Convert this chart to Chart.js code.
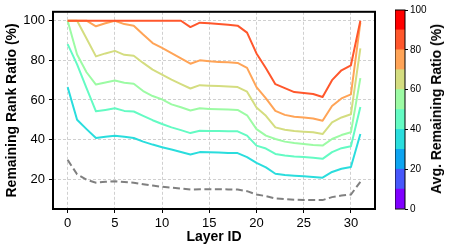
<!DOCTYPE html>
<html>
<head>
<meta charset="utf-8">
<script src="https://cdn.jsdelivr.net/npm/chart.js@4.4.0/dist/chart.umd.min.js"></script>
<style>
  html, body { margin: 0; padding: 0; background: #fff; }
  #wrap { position: relative; width: 449px; height: 252px; overflow: hidden; }
  #mainChart { position: absolute; left: 0; top: 0; }
  #cbarChart { position: absolute; left: 395px; top: 0; }
  #cbarTitle {
    position: absolute; left: 436px; top: 109px;
    transform: translate(-50%, -50%) rotate(-90deg);
    white-space: nowrap; color: #000;
    font: bold 14px "Liberation Sans", Arial, sans-serif;
  }
</style>
</head>
<body>
<div id="wrap">
  <canvas id="mainChart" width="449" height="252"></canvas>
  <canvas id="cbarChart" width="34" height="252"></canvas>
  <div id="cbarTitle">Avg. Remaining Ratio (%)</div>
</div>
<script>
// layer ids and axis ticks
var layers = [0,1,2,3,4,5,6,7,8,9,10,11,12,13,14,15,16,17,18,19,20,21,22,23,24,25,26,27,28,29,30,31];
var xTicks = [0, 5, 10, 15, 20, 25, 30];
var yTicks = [20, 40, 60, 80, 100];
var cbarTicks = [0, 20, 40, 60, 80, 100];

// remaining rank ratio per layer, one array per avg ratio level
var ratio85 = [100,100,100,100,100,100,100,100,100,100,100,100,100,96.8,99,98.7,98.3,98,97.5,94,83.5,76,68,66,64,63.5,63,61.5,70,75,77.5,100];
var ratio75 = [100,100,100,97.2,98.7,100,98.3,97.5,93,88.7,86.3,83.7,81,78.3,80,79.5,79.2,79,78.7,76.2,66.5,60.8,54.5,52.5,51.5,51.2,50.7,49.5,57,60.8,62.8,99];
var ratio65 = [100,100,91,82,83.5,84.8,82.8,82.3,78.7,75.3,72.8,70.3,68,65.8,67.5,67.2,67,66.8,66.5,64.2,56.2,52,46.2,45,44.3,44,43.7,42.8,48.7,51.2,52.8,86];
var ratio55 = [100,83,74,67.8,68.8,69.8,68.7,68.2,64.5,62,60.3,57.8,56.3,54.7,55.8,55.5,55.3,55.2,55,52.3,45.3,42,40.3,39,38.3,37.8,37.3,37,40.3,42.3,43.7,71];
var ratio45 = [88.2,78,66,54.3,55,55.8,54.5,54.2,52,49.8,47.9,46.2,44.8,43.3,44.5,44.4,44.3,44.2,44.2,42,37,35.5,32.8,32,31.5,31.2,30.8,30.3,33.7,35.7,36.7,56.5];
var ratio35 = [66.5,50,45.3,40.8,41.4,42,41.4,40.8,39,37.5,36.2,35,33.8,32.5,33.7,33.6,33.5,33.3,33.2,31.2,28.3,26,22.8,22.2,21.8,21.5,21.2,20.8,23.7,25.3,26.2,42.8];
var ratioMin = [29.8,22.5,19.8,18.3,18.7,19,18.6,18.3,17.5,16.8,16.2,15.8,15.3,14.8,15,15,15,14.9,14.8,14,12.3,11.5,10.3,10,9.7,9.5,9.5,9.5,11,11.8,12.3,18.7];

// colour bar: ten bins of 10 %
var cbarBins = [10, 10, 10, 10, 10, 10, 10, 10, 10, 10];
var cbarColors = ['#8000ff','#4757fb','#0ea4f0','#2adddd','#64fbc3','#9cfba4','#d4dd80','#ffa457','#ff572c','#ff0000'];

var seriesList = [ratio85, ratio75, ratio65, ratio55, ratio45, ratio35];
var lineColors = ['#ff572c', '#ffa457', '#d4dd80', '#9cfba4', '#64fbc3', '#2adddd'];

Chart.defaults.font.family = '"Liberation Sans", Arial, sans-serif';
Chart.defaults.color = '#000';

function toPoints(vals) {
  return layers.map(function(l, i) { return { x: l, y: vals[i] }; });
}

var datasets = [];
seriesList.forEach(function(s, i) {
  datasets.push({
    data: toPoints(s),
    borderColor: lineColors[i],
    borderWidth: 2,
    pointRadius: 0,
    tension: 0,
    borderJoinStyle: 'round'
  });
});
datasets.push({
  data: toPoints(ratioMin),
  borderColor: '#808080',
  borderWidth: 2,
  borderDash: [7, 3.5],
  pointRadius: 0,
  tension: 0
});

var framePlugin = {
  id: 'frame',
  afterDraw: function(chart, args, opts) {
    var a = chart.chartArea, ctx = chart.ctx;
    ctx.save();
    ctx.strokeStyle = '#000';
    ctx.lineWidth = opts.width;
    ctx.strokeRect(a.left, a.top, a.right - a.left, a.bottom - a.top);
    ctx.restore();
  }
};

new Chart(document.getElementById('mainChart'), {
  type: 'line',
  data: { datasets: datasets },
  plugins: [framePlugin],
  options: {
    responsive: false,
    animation: false,
    layout: { padding: { top: 10, right: 74, left: 0, bottom: 0 } },
    plugins: {
      legend: { display: false },
      tooltip: { enabled: false },
      frame: { width: 2 }
    },
    scales: {
      x: {
        type: 'linear',
        min: -1.55,
        max: 32.55,
        afterBuildTicks: function(s) { s.ticks = xTicks.map(function(v) { return { value: v }; }); },
        afterFit: function(s) { s.height = 43; },
        ticks: { color: '#000', font: { size: 13 }, padding: 3, maxRotation: 0 },
        grid: { color: '#d0d0d0', lineWidth: 1, tickLength: 4, tickColor: '#000', tickWidth: 1 },
        border: { display: false, dash: [3, 2] },
        title: { display: true, text: 'Layer ID', color: '#000', font: { size: 14, weight: 'bold' }, padding: { top: 4, bottom: 6 } }
      },
      y: {
        min: 5,
        max: 104.5,
        afterBuildTicks: function(s) { s.ticks = yTicks.map(function(v) { return { value: v }; }); },
        afterFit: function(s) { s.width = 53; },
        ticks: { color: '#000', font: { size: 13 }, padding: 4 },
        grid: { color: '#d0d0d0', lineWidth: 1, tickLength: 4, tickColor: '#000', tickWidth: 1 },
        border: { display: false, dash: [3, 2] },
        title: { display: true, text: 'Remaining Rank Ratio (%)', color: '#000', font: { size: 14, weight: 'bold' }, padding: { top: 4, bottom: 0 } }
      }
    }
  }
});

// colour bar as a stacked bar
var cbarSets = cbarBins.map(function(v, i) {
  return { data: [v], backgroundColor: cbarColors[i], borderWidth: 0, barPercentage: 1, categoryPercentage: 1 };
});

new Chart(document.getElementById('cbarChart'), {
  type: 'bar',
  data: { labels: [''], datasets: cbarSets },
  plugins: [framePlugin],
  options: {
    responsive: false,
    animation: false,
    layout: { padding: { top: 10, right: 0, left: 0, bottom: 43 } },
    plugins: {
      legend: { display: false },
      tooltip: { enabled: false },
      frame: { width: 1 }
    },
    scales: {
      x: { stacked: true, display: false },
      y: {
        stacked: true,
        position: 'right',
        min: 0,
        max: 100,
        afterBuildTicks: function(s) { s.ticks = cbarTicks.map(function(v) { return { value: v }; }); },
        afterFit: function(s) { s.width = 24; },
        ticks: { color: '#000', font: { size: 10 }, padding: 2 },
        grid: { drawOnChartArea: false, tickLength: 3, tickColor: '#000', tickWidth: 1 },
        border: { display: false }
      }
    }
  }
});
</script>
</body>
</html>
